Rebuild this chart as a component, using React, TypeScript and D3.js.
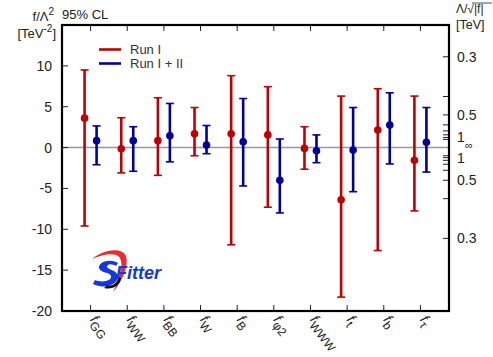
import React from "react";
import * as d3 from "d3";

// Operator names (subscripts of f) along the x axis
const operators = ["GG", "WW", "BB", "W", "B", "φ2", "WWW", "t", "b", "τ"];

// Run I: best fit and 95% CL interval for f/Λ² [TeV⁻²]
const run1Center = [3.6, -0.15, 0.85, 1.7, 1.7, 1.55, -0.1, -6.4, 2.15, -1.55];
const run1Low = [-9.6, -3.1, -3.4, -1.0, -11.9, -7.3, -2.65, -18.3, -12.6, -7.75];
const run1High = [9.5, 3.65, 6.1, 4.9, 8.8, 7.45, 2.55, 6.3, 7.2, 6.3];

// Run I + II
const run12Center = [0.85, 0.85, 1.45, 0.3, 0.7, -4.0, -0.4, -0.3, 2.75, 0.65];
const run12Low = [-2.1, -2.9, -1.75, -0.75, -4.7, -8.0, -1.85, -5.4, -2.0, -3.0];
const run12High = [2.65, 2.55, 5.4, 2.7, 6.0, 1.05, 1.55, 4.9, 6.7, 4.9];

// Left axis ticks and right axis (Λ/√|f| in TeV) ticks
const leftTicks = [-20, -15, -10, -5, 0, 5, 10];
const lambdaTicks = [0.3, 0.4, 0.5, 0.6, 0.7, 0.8, 0.9, 1.0];
const lambdaLabels = [0.3, 0.5];

const seriesNames = ["Run I", "Run I + II"];
const RED = "#c00000";
const BLUE = "#00009a";

const W = 493;
const H = 357;
const L = 62, R = 449, T = 25, B = 311;

export default function App() {
  const x = d3.scaleLinear().domain([0.22, 10.78]).range([L, R]);
  const y = d3.scaleLinear().domain([-20, 15]).range([B, T]);
  const font = "'Liberation Sans', Arial, sans-serif";
  const off = 6;

  const series = [
    { c: run1Center, lo: run1Low, hi: run1High, color: RED, dx: -off },
    { c: run12Center, lo: run12Low, hi: run12High, color: BLUE, dx: off },
  ];

  return (
    <svg width={W} height={H} style={{ position: "absolute", left: 0, top: 0 }} fontFamily={font}>
      <rect width={W} height={H} fill="#fff" />
      {/* zero line */}
      <line x1={L} x2={R} y1={y(0)} y2={y(0)} stroke="#999" strokeWidth={1.5} />

      {/* left ticks */}
      {leftTicks.map((t) => (
        <g key={"l" + t}>
          <line x1={L} x2={L + 6} y1={y(t)} y2={y(t)} stroke="#222" strokeWidth={1} />
          <text x={L - 10} y={y(t)} dy="0.36em" textAnchor="end" fontSize={14} fill="#222">
            {t}
          </text>
        </g>
      ))}

      {/* right ticks: f = ±1/Λ² */}
      {lambdaTicks.flatMap((l) =>
        [1, -1].map((s) => (
          <line key={"r" + l + s} x1={R - 6} x2={R} y1={y(s / (l * l))} y2={y(s / (l * l))} stroke="#222" strokeWidth={1} />
        ))
      )}
      {lambdaLabels.flatMap((l) =>
        [1, -1].map((s) => (
          <text key={"rl" + l + s} x={R + 8} y={y(s / (l * l))} dy="0.36em" fontSize={14} fill="#222">
            {l}
          </text>
        ))
      )}
      <text x={R + 8} y={y(1) + 1} dy="0.1em" fontSize={14} fill="#222">1</text>
      <text x={R + 8} y={y(-1) + 1} dy="0.45em" fontSize={14} fill="#222">1</text>
      <text x={R + 16} y={y(0) - 2} dy="0.3em" fontSize={11} fill="#222">∞</text>

      {/* x ticks top and bottom */}
      {operators.map((op, i) => (
        <g key={"x" + op}>
          <line x1={x(i + 1)} x2={x(i + 1)} y1={B} y2={B - 6} stroke="#222" strokeWidth={1} />
          <line x1={x(i + 1)} x2={x(i + 1)} y1={T} y2={T + 6} stroke="#222" strokeWidth={1} />
          <text
            transform={`translate(${x(i + 1) - 1},${B + 9}) rotate(52)`}
            fontSize={14}
            fill="#222"
          >
            <tspan fontStyle="italic">f</tspan>
            <tspan fontSize={12} dy={4}>{op}</tspan>
          </text>
        </g>
      ))}

      {/* error bars */}
      {series.map((s, si) =>
        operators.map((op, i) => {
          const cx = x(i + 1) + s.dx;
          return (
            <g key={"e" + si + op} stroke={s.color}>
              <line x1={cx} x2={cx} y1={y(s.lo[i])} y2={y(s.hi[i])} strokeWidth={2.6} />
              <line x1={cx - 4} x2={cx + 4} y1={y(s.lo[i])} y2={y(s.lo[i])} strokeWidth={1.6} />
              <line x1={cx - 4} x2={cx + 4} y1={y(s.hi[i])} y2={y(s.hi[i])} strokeWidth={1.6} />
              <circle cx={cx} cy={y(s.c[i])} r={3.8} fill={s.color} stroke="none" />
            </g>
          );
        })
      )}

      {/* frame */}
      <rect x={L} y={T} width={R - L} height={B - T} fill="none" stroke="#000" strokeWidth={2.2} />

      {/* legend */}
      {seriesNames.map((n, i) => (
        <g key={n}>
          <line x1={99} x2={121} y1={49.5 + i * 14} y2={49.5 + i * 14} stroke={i === 0 ? RED : BLUE} strokeWidth={2.6} />
          <text x={130} y={49.5 + i * 14} dy="0.35em" fontSize={13} fill="#333">{n}</text>
        </g>
      ))}

      {/* titles */}
      <text x={62} y={19} fontSize={13} fill="#222">95% CL</text>
      <text x={54} y={21} textAnchor="end" fontSize={13} fill="#222">
        f/Λ<tspan fontSize={10} dy={-6}>2</tspan>
      </text>
      <text x={56} y={38} textAnchor="end" fontSize={13} fill="#222">
        [TeV<tspan fontSize={10} dy={-6}>-2</tspan><tspan dy={6}>]</tspan>
      </text>
      <text x={456} y={13} fontSize={12} fill="#222">Λ/√|f|</text>
      <line x1={472} x2={492} y1={3} y2={3} stroke="#222" strokeWidth={0.8} />
      <text x={456} y={29} fontSize={12.5} fill="#222">[TeV]</text>

      {/* SFitter logo */}
      <g>
        <path d="M92,259 C104,249 122,247 126,256 C129,266 122,282 113,292 C119,280 124,266 120,258 C116,252 104,254 92,259 Z" fill="#e8141c" opacity={0.9} />
        <path d="M118,263 C110,258 98,262 99,268 C100,273 110,272 111,276 C112,281 102,283 95,280 L93,284 C102,289 117,286 118,277 C118,270 108,270 107,267 C107,263 113,264 116,266 Z" fill="#1437e0" />
        <path d="M107,285 C112,287 118,283 118,277 L121,278 C120,286 112,290 104,288 Z" fill="#111" />
        <text x={116} y={279} fontSize={18} fontWeight="bold" fontStyle="italic" fill="#1437e0">Fitter</text>
      </g>
    </svg>
  );
}
